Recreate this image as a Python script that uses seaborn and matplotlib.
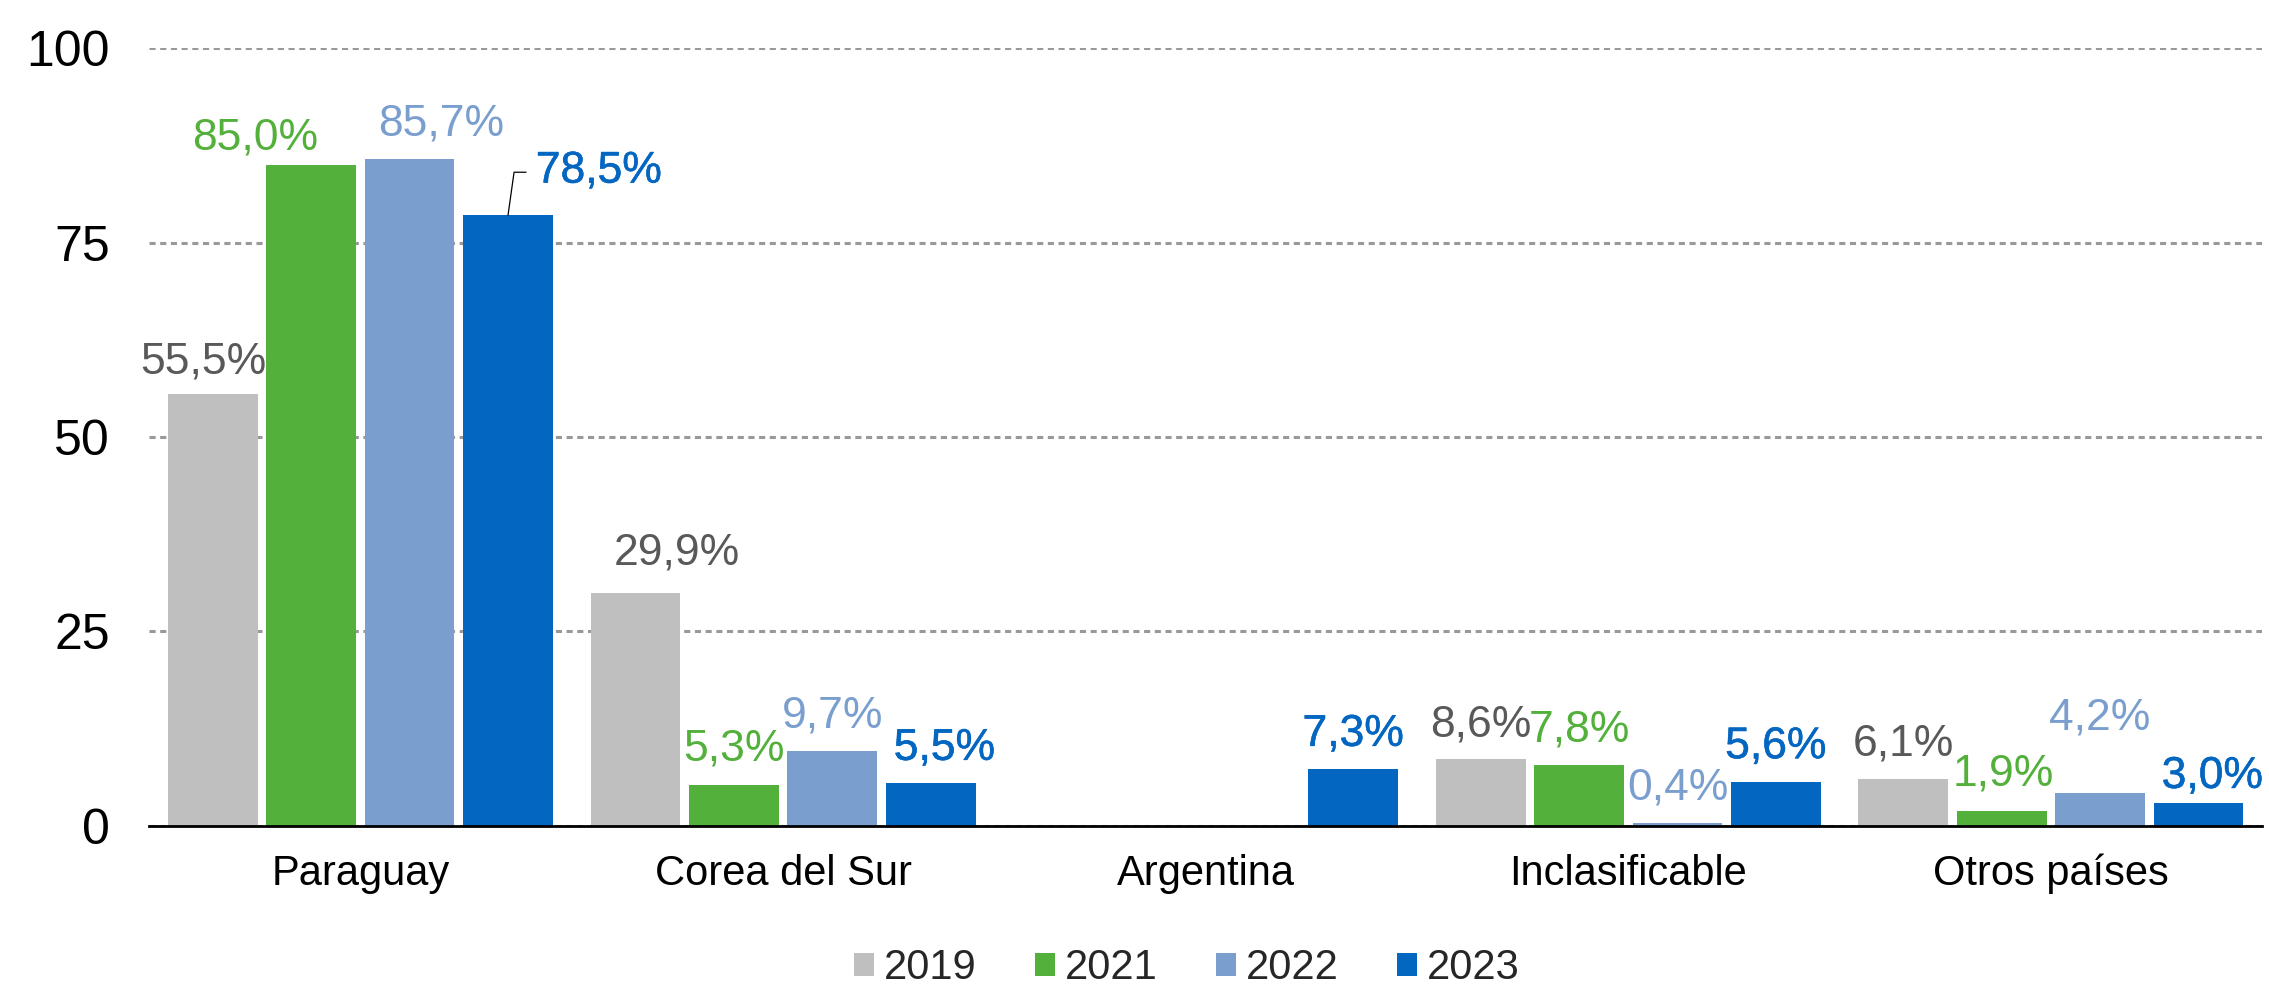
import numpy as np
import pandas as pd
import seaborn as sns
import matplotlib.pyplot as plt
from matplotlib.patches import Patch
import matplotlib.patheffects as pe

# ======================
# --- Datos ---
# ======================
paises = ['Paraguay', 'Corea del Sur', 'Argentina', 'Inclasificable', 'Otros países']
anios = ['2019', '2021', '2022', '2023']
v2019 = [55.5, 29.9, np.nan, 8.6, 6.1]
v2021 = [85.0, 5.3, np.nan, 7.8, 1.9]
v2022 = [85.7, 9.7, np.nan, 0.4, 4.2]
v2023 = [78.5, 5.5, 7.3, 5.6, 3.0]
yticks = [0, 25, 50, 75, 100]

colores = ['#BFBFBF', '#53B03B', '#7A9FCF', '#0366C1']
colores_txt = ['#595959', '#53B03B', '#7A9FCF', '#0366C1']

# desplazamiento de cada etiqueta respecto a la barra (pt)
dx = [[-7, 30, 0, 0, 0], [-40, 0, 0, 0, 1], [23, 0, 0, 0, 0], [20, 10, 0, 0, 10]]
dy = [[14.6, 20.7, 0, 16.2, 16.8], [10.6, 17.4, 0, 17.4, 18.5],
      [17.4, 16.8, 0, 16.8, 46], [23.5, 16.8, 16.8, 17.4, 10.6]]

df = pd.DataFrame({
    'pais': paises * 4,
    'anio': np.repeat(anios, len(paises)),
    'valor': v2019 + v2021 + v2022 + v2023,
}).dropna()

# ======================
# --- Grafico ---
# ======================
sns.set_style('white')
plt.rcParams['font.family'] = ['Liberation Sans', 'DejaVu Sans']

fig = plt.figure(figsize=(22.69, 9.86), dpi=100)
ax = fig.add_axes([0.0657, 0.1623, 0.9313, 0.789])

sns.barplot(data=df, x='pais', y='valor', hue='anio', order=paises, hue_order=anios,
            palette=colores, saturation=1, width=0.9315, gap=0.088, linewidth=0,
            legend=False, ax=ax)

ax.set_xlim(-0.5, 4.5)
ax.set_ylim(0, 100)
ax.set_yticks(yticks)
ax.set_xlabel('')
ax.set_ylabel('')
ax.yaxis.grid(True, color='#999999', linestyle=(0, (2, 1.5)), linewidth=2.2)
ax.set_axisbelow(True)
for s in ['left', 'top', 'right']:
    ax.spines[s].set_visible(False)
ax.spines['bottom'].set_color('black')
ax.spines['bottom'].set_linewidth(2)
ax.tick_params(axis='y', length=0, pad=28, labelsize=36, labelcolor='black')
ax.tick_params(axis='x', length=0, pad=20, labelsize=30, labelcolor='black')

# etiquetas de valor
for j, cont in enumerate(ax.containers):
    for p in cont:
        h = p.get_height()
        if not np.isfinite(h):
            continue
        x = p.get_x() + p.get_width() / 2
        i = int(round(x))
        txt = f'{h:.1f}'.replace('.', ',') + '%'
        efectos = [pe.withStroke(linewidth=0.4, foreground=colores_txt[j])] if j == 3 else None
        lider = (j == 3 and i == 0)
        ax.annotate(txt, xy=(x, h), xytext=(dx[j][i], dy[j][i]), textcoords='offset points',
                    ha='left' if lider else 'center', va='baseline', fontsize=32,
                    color=colores_txt[j], path_effects=efectos)
        if lider:
            ax.annotate('', xy=(x, h), xytext=(13, 31), textcoords='offset points',
                        arrowprops=dict(arrowstyle='-', color='black', lw=0.9,
                                        shrinkA=0, shrinkB=0,
                                        connectionstyle='angle,angleA=0,angleB=82,rad=0'))

handles = [Patch(facecolor=c, edgecolor='none') for c in colores]
fig.legend(handles, anios, loc='center', bbox_to_anchor=(0.523, 1 - 968 / 986), ncol=4,
           frameon=False, fontsize=30, handlelength=0.48, handleheight=0.48,
           handletextpad=0.24, columnspacing=1.4)

fig.savefig('out.png', dpi=100)
